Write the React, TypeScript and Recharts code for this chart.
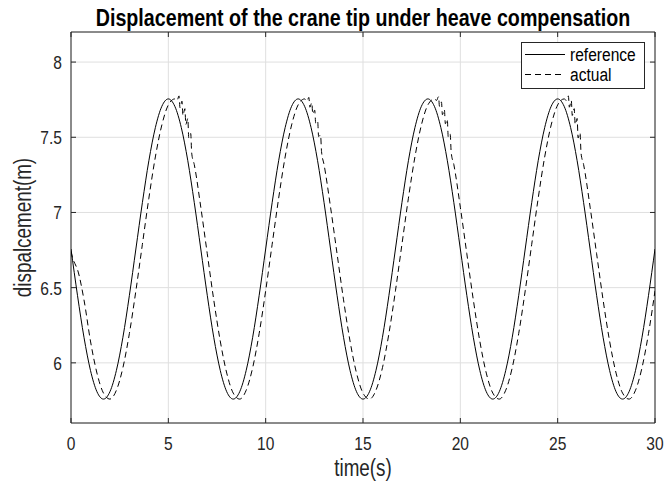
import React from "react";
import { LineChart, Line, XAxis, YAxis, CartesianGrid, ReferenceArea } from "recharts";

// reference trajectory, sampled every 1/3 s
const refTime = [
  0, 0.333, 0.667, 1, 1.333, 1.667, 2, 2.333, 2.667, 3, 3.333, 3.667, 4, 4.333, 4.667, 5, 5.333, 5.667, 6, 6.333,
  6.667, 7, 7.333, 7.667, 8, 8.333, 8.667, 9, 9.333, 9.667, 10, 10.333, 10.667, 11, 11.333, 11.667, 12, 12.333, 12.667, 13,
  13.333, 13.667, 14, 14.333, 14.667, 15, 15.333, 15.667, 16, 16.333, 16.667, 17, 17.333, 17.667, 18, 18.333, 18.667, 19, 19.333, 19.667,
  20, 20.333, 20.667, 21, 21.333, 21.667, 22, 22.333, 22.667, 23, 23.333, 23.667, 24, 24.333, 24.667, 25, 25.333, 25.667, 26, 26.333,
  26.667, 27, 27.333, 27.667, 28, 28.333, 28.667, 29, 29.333, 29.667, 30,
];
const refDisp = [
  6.757, 6.449, 6.17, 5.95, 5.808, 5.759, 5.808, 5.95, 6.17, 6.449, 6.757, 7.065, 7.344, 7.564, 7.706, 7.755, 7.706, 7.564, 7.344, 7.065,
  6.757, 6.449, 6.17, 5.95, 5.808, 5.759, 5.808, 5.95, 6.17, 6.449, 6.757, 7.065, 7.344, 7.564, 7.706, 7.755, 7.706, 7.564, 7.344, 7.065,
  6.757, 6.449, 6.17, 5.95, 5.808, 5.759, 5.808, 5.95, 6.17, 6.449, 6.757, 7.065, 7.344, 7.564, 7.706, 7.755, 7.706, 7.564, 7.344, 7.065,
  6.757, 6.449, 6.17, 5.95, 5.808, 5.759, 5.808, 5.95, 6.17, 6.449, 6.757, 7.065, 7.344, 7.564, 7.706, 7.755, 7.706, 7.564, 7.344, 7.065,
  6.757, 6.449, 6.17, 5.95, 5.808, 5.759, 5.808, 5.95, 6.17, 6.449, 6.757,
];

// measured tip, lags a bit and jitters after each crest
const actualTime = [
  0, 0.1, 0.2, 0.333, 0.667, 1, 1.333, 1.667, 2, 2.333, 2.667, 3, 3.333, 3.667, 4, 4.333, 4.667, 5, 5.333,
  5.45, 5.55, 5.6, 5.7, 5.75, 5.85, 5.9, 6.0, 6.05, 6.15, 6.2,
  6.333, 6.667, 7, 7.333, 7.667, 8, 8.333, 8.667, 9, 9.333, 9.667, 10, 10.333, 10.667, 11, 11.333, 11.667, 12,
  12.12, 12.22, 12.27, 12.37, 12.42, 12.52, 12.57, 12.67, 12.72, 12.82, 12.87,
  13, 13.333, 13.667, 14, 14.333, 14.667, 15, 15.333, 15.667, 16, 16.333, 16.667, 17, 17.333, 17.667, 18, 18.333, 18.667,
  18.78, 18.88, 18.93, 19.03, 19.08, 19.18, 19.23, 19.33, 19.38, 19.48, 19.53,
  19.667, 20, 20.333, 20.667, 21, 21.333, 21.667, 22, 22.333, 22.667, 23, 23.333, 23.667, 24, 24.333, 24.667, 25, 25.333,
  25.45, 25.55, 25.6, 25.7, 25.75, 25.85, 25.9, 26.0, 26.05, 26.15, 26.2,
  26.333, 26.667, 27, 27.333, 27.667, 28, 28.333, 28.667, 29, 29.333, 29.667, 30,
];
const actualDisp = [
  6.74, 6.69, 6.66, 6.62, 6.419, 6.145, 5.932, 5.799, 5.759, 5.818, 5.968, 6.196, 6.479, 6.788, 7.095, 7.369, 7.582, 7.715, 7.755,
  7.745, 7.775, 7.695, 7.74, 7.645, 7.69, 7.585, 7.625, 7.495, 7.525, 7.395,
  7.318, 7.035, 6.726, 6.419, 6.145, 5.932, 5.799, 5.759, 5.818, 5.968, 6.196, 6.479, 6.788, 7.095, 7.369, 7.582, 7.715, 7.755,
  7.74, 7.765, 7.7, 7.73, 7.655, 7.68, 7.595, 7.61, 7.505, 7.515, 7.405,
  7.318, 7.035, 6.726, 6.419, 6.145, 5.932, 5.799, 5.759, 5.818, 5.968, 6.196, 6.479, 6.788, 7.095, 7.369, 7.582, 7.715, 7.755,
  7.745, 7.77, 7.705, 7.735, 7.65, 7.685, 7.59, 7.62, 7.5, 7.52, 7.4,
  7.318, 7.035, 6.726, 6.419, 6.145, 5.932, 5.799, 5.759, 5.818, 5.968, 6.196, 6.479, 6.788, 7.095, 7.369, 7.582, 7.715, 7.755,
  7.745, 7.775, 7.7, 7.745, 7.645, 7.69, 7.585, 7.625, 7.495, 7.53, 7.395,
  7.318, 7.035, 6.726, 6.419, 6.145, 5.932, 5.799, 5.759, 5.818, 5.968, 6.196, 6.479,
];

const xTicks = [0, 5, 10, 15, 20, 25, 30];
const yTicks = [6, 6.5, 7, 7.5, 8];

const refData = refTime.map((t, i) => ({ t, y: refDisp[i] }));
const actualData = actualTime.map((t, i) => ({ t, y: actualDisp[i] }));

const W = 665;
const H = 482;
const PLOT = { left: 71, right: 655, top: 32, bottom: 423 };
const AXIS = "#262626";
const FONT = "'Liberation Sans', Arial, sans-serif";
const SQUEEZE = "scale(0.82,1)";

const YTick = (props: any) => {
  const { y, payload } = props;
  return (
    <g>
      <line x1={PLOT.left} x2={PLOT.left + 5} y1={y} y2={y} stroke={AXIS} />
      <line x1={PLOT.right - 5} x2={PLOT.right} y1={y} y2={y} stroke={AXIS} />
      <text
        transform={`translate(${PLOT.left - 9},${y + 7}) ${SQUEEZE}`}
        textAnchor="end"
        fontSize={19}
        fontFamily={FONT}
        fill={AXIS}
      >
        {payload.value}
      </text>
    </g>
  );
};

const XTick = (props: any) => {
  const { x, payload } = props;
  return (
    <g>
      <line x1={x} x2={x} y1={PLOT.bottom} y2={PLOT.bottom - 5} stroke={AXIS} />
      <line x1={x} x2={x} y1={PLOT.top} y2={PLOT.top + 5} stroke={AXIS} />
      <text
        transform={`translate(${x},${PLOT.bottom + 27}) ${SQUEEZE}`}
        textAnchor="middle"
        fontSize={19}
        fontFamily={FONT}
        fill={AXIS}
      >
        {payload.value}
      </text>
    </g>
  );
};

const LegendBox = () => (
  <svg width={124} height={47} style={{ position: "absolute", left: 521, top: 42 }}>
    <rect x={0.5} y={0.5} width={123} height={46} fill="#fff" stroke={AXIS} />
    <line x1={4} x2={44} y1={12.5} y2={12.5} stroke="#000" />
    <line x1={4} x2={44} y1={32.5} y2={32.5} stroke="#000" strokeDasharray="6 4" />
    <text transform={`translate(49,19) ${SQUEEZE}`} fontSize={19} fontFamily={FONT} fill="#000">
      reference
    </text>
    <text transform={`translate(49,39) ${SQUEEZE}`} fontSize={19} fontFamily={FONT} fill="#000">
      actual
    </text>
  </svg>
);

export default function App() {
  const cx = (PLOT.left + PLOT.right) / 2;
  const cy = (PLOT.top + PLOT.bottom) / 2;
  return (
    <div style={{ position: "absolute", left: 0, top: 0, width: W, height: H, background: "#fff" }}>
      <LineChart width={W} height={H} margin={{ top: 32, right: 10, bottom: 0, left: 0 }}>
        <CartesianGrid stroke="#dfdfdf" />
        <XAxis
          type="number"
          dataKey="t"
          domain={[0, 30]}
          ticks={xTicks}
          height={59}
          tickSize={0}
          tickMargin={0}
          axisLine={false}
          tick={<XTick />}
          allowDataOverflow
        />
        <YAxis
          type="number"
          domain={[5.6, 8.2]}
          ticks={yTicks}
          width={71}
          tickSize={0}
          tickMargin={0}
          axisLine={false}
          tick={<YTick />}
          allowDataOverflow
        />
        <Line
          data={refData}
          dataKey="y"
          name="reference"
          type="monotone"
          stroke="#000"
          strokeWidth={1}
          dot={false}
          isAnimationActive={false}
        />
        <Line
          data={actualData}
          dataKey="y"
          name="actual"
          type="monotone"
          stroke="#000"
          strokeWidth={1}
          strokeDasharray="6 4"
          dot={false}
          isAnimationActive={false}
        />
        <ReferenceArea x1={0} x2={30} y1={5.6} y2={8.2} fill="none" stroke={AXIS} strokeWidth={1} />
      </LineChart>
      <LegendBox />
      <svg width={W} height={H} style={{ position: "absolute", left: 0, top: 0, pointerEvents: "none" }}>
        <text
          transform={`translate(${cx},26) ${SQUEEZE}`}
          textAnchor="middle"
          fontSize={24}
          fontWeight="bold"
          fontFamily={FONT}
          fill="#000"
        >
          Displacement of the crane tip under heave compensation
        </text>
        <text
          transform={`translate(${cx},476) ${SQUEEZE}`}
          textAnchor="middle"
          fontSize={23}
          fontFamily={FONT}
          fill={AXIS}
        >
          time(s)
        </text>
        <text
          transform={`translate(31,${cy}) rotate(-90) ${SQUEEZE}`}
          textAnchor="middle"
          fontSize={23}
          fontFamily={FONT}
          fill={AXIS}
        >
          dispalcement(m)
        </text>
      </svg>
    </div>
  );
}
